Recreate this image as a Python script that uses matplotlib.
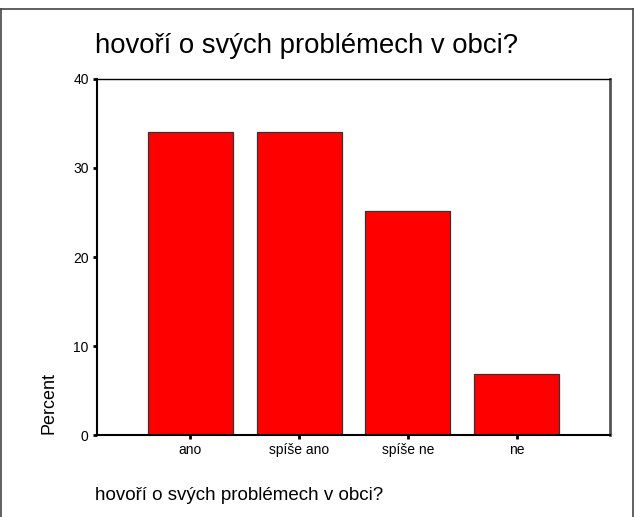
import matplotlib.pyplot as plt
from matplotlib.lines import Line2D

plt.rcParams['font.family'] = ['Liberation Sans', 'DejaVu Sans']

categories = ['ano', 'spíše ano', 'spíše ne', 'ne']
percent = [34.0, 34.0, 25.2, 6.8]
yticks = [0, 10, 20, 30, 40]
question = 'hovoří o svých problémech v obci?'

fig = plt.figure(figsize=(6.35, 5.17), dpi=100)
ax = fig.add_axes([0.1528, 0.1586, 0.8078, 0.6886])

ax.bar(range(len(categories)), percent, width=0.78, color='#ff0000',
       edgecolor='#333333', linewidth=0.9)

ax.set_xlim(-0.86, 3.86)
ax.set_ylim(0, 40)
ax.set_yticks(yticks)
ax.set_xticks(range(len(categories)))
ax.set_xticklabels(categories)
ax.tick_params(axis='both', direction='out', length=3, width=2, color='black',
               labelsize=10, pad=3)

# frame: black left/bottom, grey shadow on right
ax.spines['left'].set_linewidth(1.5)
ax.spines['bottom'].set_linewidth(1.5)
ax.spines['top'].set_linewidth(1.0)
ax.spines['top'].set_color('black')
ax.spines['right'].set_linewidth(2.0)
ax.spines['right'].set_color('#555555')

ax.set_ylabel('Percent', fontsize=13)
ax.yaxis.set_label_coords(-0.078, 0.09)

fig.text(95 / 635, 1 - 46 / 517, question, fontsize=19.8, ha='left', va='center')
fig.text(95 / 635, 1 - 495 / 517, question, fontsize=13.5, ha='left', va='center')

# outer border of the chart
top = 1 - 8.5 / 517
for xs, ys in [([0.001, 0.001], [0, top]), ([0.001, 0.997], [top, top]),
               ([0.997, 0.997], [top, 0])]:
    fig.add_artist(Line2D(xs, ys, transform=fig.transFigure, color='#444444',
                          linewidth=1.2))

fig.savefig('out.png', dpi=100)
